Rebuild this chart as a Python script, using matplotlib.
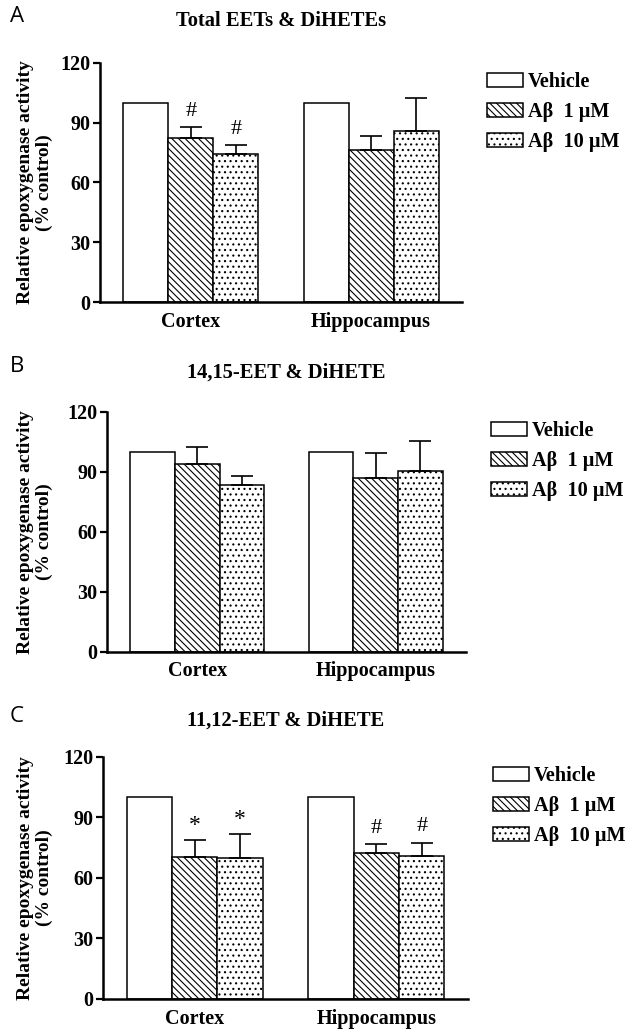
import matplotlib
matplotlib.use("Agg")
import matplotlib.pyplot as plt
import numpy as np

plt.rcParams['hatch.linewidth'] = 0.8
SERIF = 'Liberation Serif'

# ---------------- data ----------------
regions = ["Cortex", "Hippocampus"]
series = ["Vehicle", "A\u03b2  1 \u00b5M", "A\u03b2  10 \u00b5M"]
panel_letters = ["A", "B", "C"]
titles = ["Total EETs & DiHETEs", "14,15-EET & DiHETE", "11,12-EET & DiHETE"]

# values: [Cortex, Hippocampus]
A_vehicle = [100, 100]
A_ab1 = [82.2, 76.3]
A_ab10 = [74.3, 85.9]
A_ab1_err = [5.7, 7.0]
A_ab10_err = [4.4, 16.7]

B_vehicle = [100, 100]
B_ab1 = [93.7, 86.8]
B_ab10 = [83.3, 90.3]
B_ab1_err = [8.6, 12.4]
B_ab10_err = [4.5, 15.2]

C_vehicle = [100, 100]
C_ab1 = [70.2, 72.4]
C_ab10 = [69.7, 70.9]
C_ab1_err = [8.5, 4.5]
C_ab10_err = [12.0, 6.6]

# significance marks: (region index, series index, symbol)
A_marks = [(0, 1, "#"), (0, 2, "#")]
B_marks = []
C_marks = [(0, 1, "*"), (0, 2, "*"), (1, 1, "#"), (1, 2, "#")]

yticks = [0, 30, 60, 90, 120]
ylabel = "Relative epoxygenase activity\n(% control)"

# ---------------- layout (pixels) ----------------
W, H = 635, 1036
fig = plt.figure(figsize=(W / 100, H / 100), dpi=100)

panels = [
    dict(left=100, right=462, top=63, bottom=302, letter_y=16, title_y=21, leg_top=72, leg_left=487,
         veh=A_vehicle, ab1=A_ab1, ab10=A_ab10, e1=A_ab1_err, e10=A_ab10_err, marks=A_marks),
    dict(left=107, right=466, top=411.7, bottom=651.7, letter_y=366, title_y=373, leg_top=421, leg_left=491,
         veh=B_vehicle, ab1=B_ab1, ab10=B_ab10, e1=B_ab1_err, e10=B_ab10_err, marks=B_marks),
    dict(left=103, right=468, top=756.7, bottom=999, letter_y=716, title_y=721, leg_top=766, leg_left=493,
         veh=C_vehicle, ab1=C_ab1, ab10=C_ab10, e1=C_ab1_err, e10=C_ab10_err, marks=C_marks),
]

hatches = [None, '\\\\\\\\\\', '...']
FS = 14.5
YFS = 14
TFS = 14.8
LFS = 14.6

for i, p in enumerate(panels):
    ax = fig.add_axes([p['left'] / W, 1 - p['bottom'] / H,
                       (p['right'] - p['left']) / W, (p['bottom'] - p['top']) / H])
    group_pos = np.array([0, 4])
    vals = [p['veh'], p['ab1'], p['ab10']]
    errs = [[0, 0], p['e1'], p['e10']]
    handles = []
    for s in range(3):
        x = group_pos + s
        b = ax.bar(x, vals[s], width=1.0, color='white', edgecolor='black',
                   linewidth=1.1, hatch=hatches[s], label=series[s], zorder=2)
        handles.append(b)
        if s > 0:
            ax.errorbar(x, vals[s], yerr=[np.zeros(2), errs[s]], fmt='none',
                        ecolor='black', elinewidth=1.2, capsize=8, capthick=1.2, zorder=3)
    for (g, s, sym) in p['marks']:
        top = vals[s][g] + errs[s][g]
        ax.text(group_pos[g] + s, top + (3.0 if sym == '#' else 2.0), sym,
                ha='center', va='bottom', fontsize=16 if sym == '#' else 17,
                family=SERIF)

    ax.set_xlim(-1.02, 7.02)
    ax.set_ylim(0, 120)
    ax.set_yticks(yticks)
    ax.set_yticklabels([str(t) for t in yticks], family=SERIF, fontweight='bold', fontsize=FS)
    ax.set_xticks(group_pos + 1)
    ax.set_xticklabels(regions, family=SERIF, fontweight='bold', fontsize=FS)
    ax.tick_params(axis='x', length=0, pad=7)
    ax.tick_params(axis='y', length=5, width=1.6, pad=2, direction='out')
    for side in ['top', 'right']:
        ax.spines[side].set_visible(False)
    for side in ['left', 'bottom']:
        ax.spines[side].set_linewidth(1.8)
    ax.set_ylabel(ylabel, family=SERIF, fontweight='bold', fontsize=YFS, linespacing=1.1)
    ax.yaxis.set_label_coords(53 / W, 1 - ((p['top'] + p['bottom']) / 2) / H,
                              transform=fig.transFigure)

    # title
    fig.text((p['left'] + p['right']) / 2 / W, 1 - p['title_y'] / H, titles[i],
             ha='center', va='center', family=SERIF, fontweight='bold', fontsize=TFS)
    # panel letter
    fig.text(10 / W, 1 - p['letter_y'] / H, panel_letters[i], ha='left', va='center',
             family='Open Sans', fontsize=16)
    # legend
    ax.legend(handles=handles, loc='upper left',
              bbox_to_anchor=(p['leg_left'] / W, 1 - p['leg_top'] / H),
              bbox_transform=fig.transFigure, frameon=False, borderpad=0, borderaxespad=0,
              handlelength=1.78, handleheight=0.65, handletextpad=0.25, labelspacing=0.5,
              prop=dict(family=SERIF, weight='bold', size=LFS))

fig.savefig("out.png", dpi=100, facecolor='white')
